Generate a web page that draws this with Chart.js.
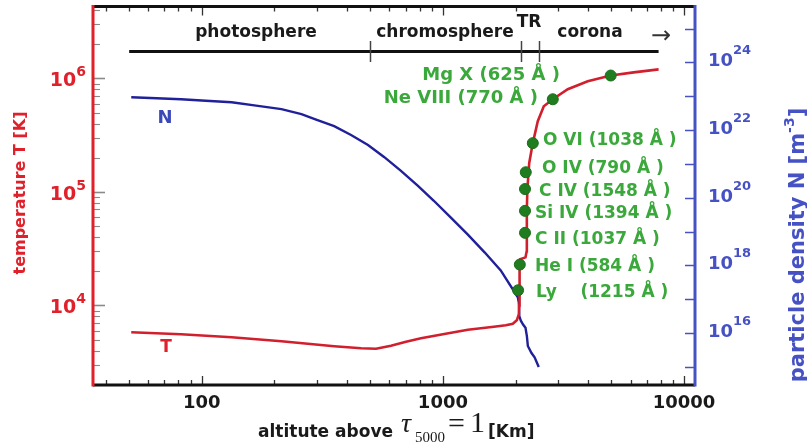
<!DOCTYPE html>
<html><head><meta charset="utf-8">
<script src="https://cdn.jsdelivr.net/npm/chart.js@4.4.1/dist/chart.umd.min.js"></script>
<style>html,body{margin:0;padding:0;background:#fff;overflow:hidden}canvas{display:block}</style>
</head><body>
<canvas id="c" width="807" height="444"></canvas>
<script>
// ---------------- data ----------------
const altT  = [51, 82, 133, 214, 354, 458, 528, 609, 703, 811, 1000, 1269, 1627, 1823, 1949, 2025, 2064, 2074, 2074, 2080, 2084, 2090, 2200, 2225, 2227, 2230, 2240, 2280, 2359, 2474, 2620, 2855, 3294, 3986, 4963, 6180, 7842];
const tempT = [5800, 5570, 5240, 4833, 4370, 4196, 4154, 4414, 4784, 5134, 5566, 6097, 6477, 6675, 6881, 7386, 8337, 10000, 13540, 18000, 22900, 25500, 26500, 30000, 45000, 70000, 106000, 180000, 269000, 420000, 568000, 655000, 802000, 942000, 1060000, 1130000, 1200000];

const altN  = [51, 65, 82, 104, 133, 168, 214, 259, 298, 354, 416, 489, 570, 670, 788, 917, 1079, 1269, 1492, 1737, 2045, 2064, 2074, 2104, 2150, 2200, 2230, 2250, 2330, 2400, 2497];
const densN = [9.35e22, 8.74e22, 8.16e22, 7.38e22, 6.66e22, 5.26e22, 4.15e22, 2.96e22, 2.04e22, 1.31e22, 7.13e21, 3.62e21, 1.61e21, 6.22e20, 2.25e20, 8.16e19, 2.58e19, 8.16e18, 2.41e18, 7.13e17, 1.15e17, 8.1e16, 3.2e16, 2.35e16, 1.8e16, 1.45e16, 8.1e15, 4.2e15, 2.6e15, 1.95e15, 1.0e15];

const ionNames = ['Ly    (1215 Å )', 'He I (584 Å )', 'C II (1037 Å )', 'Si IV (1394 Å )', 'C IV (1548 Å )', 'O IV (790 Å )', 'O VI (1038 Å )', 'Ne VIII (770 Å )', 'Mg X (625 Å )'];
const ionAlt   = [2050, 2084, 2190, 2190, 2190, 2206, 2359, 2855, 4963];
const ionTemp  = [13600, 22900, 43600, 68100, 106000, 149000, 269000, 655000, 1060000];

const xTickLabels = [100, 1000, 10000];
const tTickExps = [4, 5, 6];
const nTickExps = [16, 18, 20, 22, 24];

const regionNames  = ['photosphere', 'chromosphere', 'TR', 'corona'];
const regionBounds = [50, 500, 2100, 2500, 7840];

// ---------------- style ----------------
const FONT = 'DejaVu Sans';
const RED = '#e0202a', BLUE = '#4652c4', GREEN = '#3aa83a';
const regionLabelPx = [[256, 37], [445, 37], [529, 27], [590, 37]];
const ionLabelPos = [[536,292,'left',17],[535,266,'left',17],[535,239,'left',17],[535,213,'left',17],[539,191,'left',17],[542,168,'left',17],[543,140,'left',17],[538,97,'right',18],[560,74,'right',18]];

function drawParts(ctx, parts, x, y, align) {
  let w = 0;
  parts.forEach(p => { ctx.font = p.f; p.w = ctx.measureText(p.t).width; w += p.w; });
  let cx = align === 'center' ? x - w / 2 : align === 'right' ? x - w : x;
  parts.forEach(p => { ctx.font = p.f; if (p.c) ctx.fillStyle = p.c; ctx.fillText(p.t, cx, y + (p.dy || 0)); cx += p.w; });
}

const deco = {
  id: 'deco',
  afterDatasetsDraw(chart) {
    const { ctx, chartArea: a, scales } = chart;
    const x = scales.x, yT = scales.yT, yN = scales.yN;
    const line = (x1, y1, x2, y2) => { ctx.beginPath(); ctx.moveTo(x1, y1); ctx.lineTo(x2, y2); ctx.stroke(); };
    const each = (min, max, cb) => {
      for (let e = Math.floor(Math.log10(min)); e <= Math.ceil(Math.log10(max)); e++)
        for (let m = 1; m < 10; m++) { const v = m * Math.pow(10, e); if (v >= min && v <= max) cb(v, m === 1); }
    };
    ctx.save();
    ctx.textBaseline = 'alphabetic';
    // x ticks (bottom & top)
    ctx.strokeStyle = '#333'; ctx.lineWidth = 1.3;
    each(x.min, x.max, (v, major) => {
      const px = Math.round(x.getPixelForValue(v)) + 0.5, L = major ? 9 : 5;
      line(px, a.bottom, px, a.bottom - L); line(px, a.top, px, a.top + L);
    });
    // left ticks
    ctx.strokeStyle = '#8a8a8a';
    each(yT.min, yT.max, (v, major) => {
      const py = Math.round(yT.getPixelForValue(v)) + 0.5;
      ctx.lineWidth = major ? 1.6 : 1.1;
      line(a.left, py, a.left + (major ? 12 : 7), py);
    });
    // right ticks
    ctx.strokeStyle = BLUE; ctx.lineWidth = 1.5;
    for (let e = Math.ceil(Math.log10(yN.min)); e <= Math.floor(Math.log10(yN.max)); e++) {
      const py = Math.round(yN.getPixelForValue(Math.pow(10, e))) + 0.5;
      line(a.right, py, a.right - 10, py);
    }
    // frame
    ctx.lineWidth = 3;
    ctx.strokeStyle = '#111'; line(a.left, a.top, a.right, a.top); line(a.left, a.bottom, a.right, a.bottom);
    ctx.strokeStyle = RED; line(a.left, a.top - 1.5, a.left, a.bottom + 1.5);
    ctx.strokeStyle = BLUE; line(a.right, a.top - 1.5, a.right, a.bottom + 1.5);

    // x tick labels
    ctx.fillStyle = '#1a1a1a'; ctx.textAlign = 'center'; ctx.font = 'bold 18px ' + FONT;
    xTickLabels.forEach(v => ctx.fillText(String(v), x.getPixelForValue(v), 408));
    ctx.textAlign = 'left';
    // left tick labels
    tTickExps.forEach(e => {
      const py = yT.getPixelForValue(Math.pow(10, e));
      drawParts(ctx, [{ t: '10', f: 'bold 19px ' + FONT, c: RED }, { t: String(e), f: 'bold 14px ' + FONT, dy: -10 }], 86, py + 8, 'right');
    });
    // right tick labels
    nTickExps.forEach(e => {
      const py = yN.getPixelForValue(Math.pow(10, e));
      drawParts(ctx, [{ t: '10', f: 'bold 18px ' + FONT, c: BLUE }, { t: String(e), f: 'bold 13px ' + FONT, dy: -12 }], 708, py + 4, 'left');
    });

    // axis titles
    ctx.save(); ctx.translate(21, 193); ctx.rotate(-Math.PI / 2);
    ctx.fillStyle = RED; ctx.textAlign = 'center'; ctx.textBaseline = 'middle';
    ctx.font = 'bold 16px ' + FONT; ctx.fillText('temperature T [K]', 0, 0);
    ctx.restore();
    ctx.save(); ctx.translate(804, 245); ctx.rotate(-Math.PI / 2);
    ctx.textAlign = 'left'; ctx.textBaseline = 'alphabetic';
    drawParts(ctx, [{ t: 'particle density N [m', f: 'bold 21px ' + FONT, c: BLUE }, { t: '-3', f: 'bold 14px ' + FONT, dy: -10 }, { t: ']', f: 'bold 21px ' + FONT, dy: 0 }], 0, 0, 'center');
    ctx.restore();
    // bottom title
    ctx.fillStyle = '#1a1a1a'; ctx.textAlign = 'left';
    ctx.font = 'bold 17px ' + FONT; ctx.fillText('altitute above', 258, 437);
    ctx.font = 'italic 28px "Liberation Serif"'; ctx.fillText('τ', 401, 432);
    ctx.font = '15px "Liberation Serif"'; ctx.fillText('5000', 415, 442);
    ctx.font = '30px "Liberation Serif"'; ctx.fillText('=', 448, 433);
    ctx.font = '30px "Liberation Serif"'; ctx.fillText('1', 470, 432);
    ctx.font = 'bold 17px ' + FONT; ctx.fillText('[Km]', 488, 437);

    // region bar
    const yb = 51.5;
    ctx.strokeStyle = '#111'; ctx.lineWidth = 3;
    line(x.getPixelForValue(regionBounds[0]), yb, x.getPixelForValue(regionBounds[regionBounds.length - 1]), yb);
    ctx.strokeStyle = '#444'; ctx.lineWidth = 1.5;
    for (let i = 1; i < regionBounds.length - 1; i++) {
      const px = Math.round(x.getPixelForValue(regionBounds[i])) + 0.5;
      line(px, 41, px, 62);
    }
    ctx.fillStyle = '#1a1a1a'; ctx.textAlign = 'center'; ctx.font = 'bold 17px ' + FONT;
    regionNames.forEach((n, i) => ctx.fillText(n, regionLabelPx[i][0], regionLabelPx[i][1]));
    ctx.font = '24px ' + FONT; ctx.fillStyle = '#333'; ctx.textBaseline = 'middle';
    ctx.fillText('→', 661, 37);

    // curve labels
    ctx.font = 'bold 18px ' + FONT; ctx.fillStyle = '#3a48b8'; ctx.fillText('N', 165, 118);
    ctx.font = 'bold 17px ' + FONT; ctx.fillStyle = RED; ctx.fillText('T', 166, 348);

    // ion labels
    ctx.fillStyle = GREEN;
    ionNames.forEach((n, i) => {
      const p = ionLabelPos[i];
      ctx.font = 'bold ' + p[3] + 'px ' + FONT; ctx.textAlign = p[2];
      ctx.fillText(n, p[0], p[1] + 1);
    });
    ctx.restore();
  }
};

new Chart(document.getElementById('c'), {
  type: 'line',
  data: {
    datasets: [
      { label: 'ions', type: 'scatter', yAxisID: 'yT', data: ionAlt.map((a, i) => ({ x: a, y: ionTemp[i] })),
        pointRadius: 5.5, pointBackgroundColor: '#1f7d1f', pointBorderColor: '#1a6e1a', pointBorderWidth: 1, showLine: false },
      { label: 'T', yAxisID: 'yT', data: altT.map((a, i) => ({ x: a, y: tempT[i] })),
        borderColor: '#d21f2d', borderWidth: 2.6, pointRadius: 0, tension: 0, fill: false },
      { label: 'N', yAxisID: 'yN', data: altN.map((a, i) => ({ x: a, y: densN[i] })),
        borderColor: '#20209a', borderWidth: 2.4, pointRadius: 0, tension: 0, fill: false }
    ]
  },
  options: {
    responsive: false, animation: false, devicePixelRatio: 1,
    layout: { padding: { left: 93, right: 112, top: 5, bottom: 59 } },
    plugins: { legend: { display: false }, tooltip: { enabled: false } },
    scales: {
      x: { type: 'logarithmic', display: false, min: 35.4, max: 11100 },
      yT: { type: 'logarithmic', display: false, position: 'left', min: 1990, max: 4.3e6 },
      yN: { type: 'logarithmic', display: false, position: 'right', min: 2.95e14, max: 4.47e25 }
    }
  },
  plugins: [deco]
});
</script>
</body></html>
